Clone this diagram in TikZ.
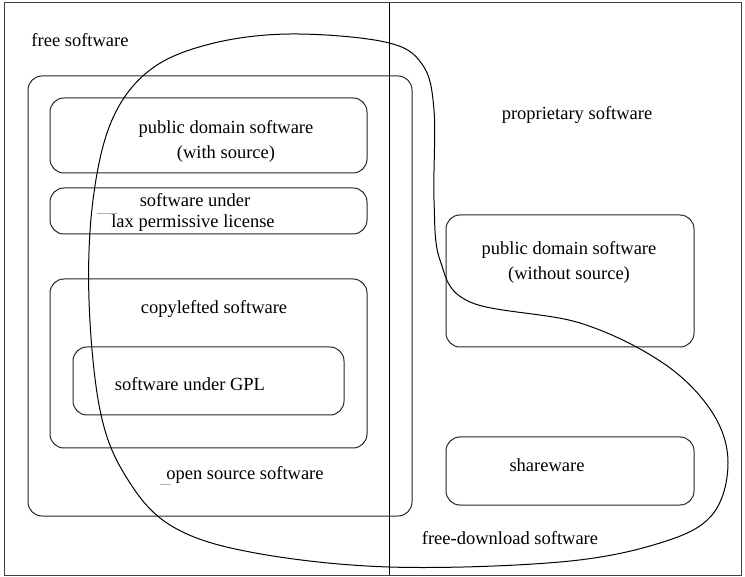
\documentclass[tikz,border=0pt]{standalone}
\usepackage{fontspec}
\setmainfont{Liberation Serif}
\begin{document}
\begin{tikzpicture}[x=1pt,y=-1pt,
  box/.style={draw=black!85,line width=1pt,rounded corners=14pt},
  lbl/.style={inner sep=0pt,align=center,font=\fontsize{18.5}{25}\selectfont},
  curve/.style={draw=black,line width=1pt}]
\useasboundingbox (0,0) rectangle (745,577);
\draw[draw=black!75,line width=1pt] (4,3) rectangle (741,575);
\coordinate (dtop) at (389,3);
\coordinate (dbot) at (389,575);
\draw[line width=1pt] (dtop) -- (dbot);
% boxes
\draw[box] (28,76) rectangle (412,516);
\draw[box] (50,98) rectangle (367,173);
\draw[box] (50,188) rectangle (367,234);
\draw[box] (50,279) rectangle (367,448);
\draw[box] (73,347) rectangle (344,415);
\draw[box] (446,215) rectangle (694,347);
\draw[box] (446,437) rectangle (694,505);
% texts
\node[lbl] (free) at (80,40) {free software};
\node[lbl] (pdws) at (226,141) {public domain software\\(with source)};
\node[lbl] (lax1) at (195,200) {software under};
\node[lbl] (lax2) at (193,223) {lax permissive license};
\node[lbl] (copy) at (214,309) {copylefted software};
\node[lbl] (gpl) at (190,384) {software under GPL};
\node[lbl] (oss) at (245,475) {open source software};
\node[lbl] (prop) at (577,115) {proprietary software};
\node[lbl] (pdwo) at (569,262) {public domain software\\(without source)};
\node[lbl] (share) at (547,465) {shareware};
\node[lbl] (fdl) at (510,538) {free-download software};
% faint marks
\draw[black!30,line width=0.6pt] (97,213) -- (117,213);
\draw[black!30,line width=0.6pt] (160,484) -- (171,484);
% free-download curve
\draw[curve] plot[smooth cycle,tension=0.6] coordinates {
(290,34) (385,42) (422,64) (434,110) (434,200) (440,260) (470,302)
(580,323) (663,363) (712,412) (728,463) (712,515) (660,543) (560,562)
(389,567) (250,552) (170,525) (125,475) (100,410) (89,300) (93,200)
(112,120) (150,70) (210,44)};
\end{tikzpicture}
\end{document}
